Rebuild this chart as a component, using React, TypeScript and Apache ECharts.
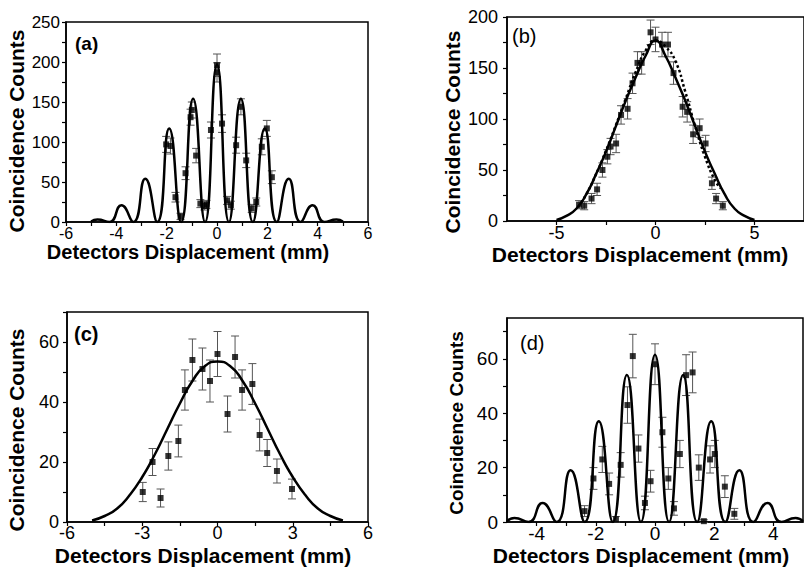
import React, { useEffect, useRef } from "react";
import * as echarts from "echarts";

// ---------- Panel (a) ----------
const aCurveX = [-5, -4.75, -4.275, -3.8, -3.325, -2.85, -2.375, -1.9, -1.425, -0.95, -0.475, 0, 0.475, 0.95, 1.425, 1.9, 2.375, 2.85, 3.325, 3.8, 4.275, 4.75, 5];
const aCurveY = [0.5, 3, 0, 21, 0, 54, 0, 117, 0, 154, 0, 197, 0, 154, 0, 117, 0, 54, 0, 21, 0, 3, 0.5];
const aPoints = [
  [-2.02, 97, 10], [-1.85, 95, 10], [-1.65, 31, 6], [-1.45, 7, 4], [-1.25, 61, 8],
  [-1.05, 131, 10], [-1.0, 140, 10], [-0.83, 83, 9], [-0.66, 23, 5], [-0.5, 20, 5],
  [-0.42, 22, 5], [-0.24, 115, 10], [0, 196, 14], [0, 187, 12], [0.2, 123, 11],
  [0.4, 27, 5], [0.55, 21, 5], [0.76, 96, 10], [0.95, 144, 10], [1.16, 77, 9],
  [1.38, 17, 5], [1.56, 25, 5], [1.78, 94, 10], [1.98, 117, 10], [2.18, 56, 8],
];
const aXLabels = [-6, -4, -2, 0, 2, 4, 6];
const aXTicks = [-6, -5, -4, -3, -2, -1, 0, 1, 2, 3, 4, 5, 6];
const aYLabels = [0, 50, 100, 150, 200, 250];
const aYTicks = [0, 25, 50, 75, 100, 125, 150, 175, 200, 225, 250];

// ---------- Panel (b) ----------
const bSolidX = [-5, -4.5, -4, -3.5, -3, -2.5, -2, -1.5, -1, -0.5, 0, 0.5, 1, 1.5, 2, 2.5, 3, 3.5, 4, 4.5, 5];
const bSolidY = [1, 5, 12, 26, 46, 68, 93, 118, 141, 162, 177, 162, 141, 118, 93, 68, 46, 26, 12, 5, 1];
const bDotX = [-3.9, -3.5, -3, -2.5, -2, -1.5, -1, -0.5, 0, 0.5, 1, 1.5, 2, 2.5, 3, 3.3];
const bDotY = [14, 26, 46, 69, 94, 120, 146, 167, 177, 171, 157, 127, 93, 63, 40, 32];
const bPoints = [
  [-3.86, 16, 4], [-3.6, 15, 4], [-3.23, 22, 5], [-2.95, 31, 6], [-2.68, 50, 7],
  [-2.43, 63, 7], [-2.27, 73, 8], [-1.99, 76, 9], [-1.74, 104, 9], [-1.41, 110, 10],
  [-1.16, 135, 10], [-0.91, 155, 11], [-0.7, 155, 11], [-0.25, 185, 12], [0, 178, 12],
  [0.33, 173, 12], [0.63, 173, 12], [0.91, 145, 11], [1.37, 112, 10], [1.6, 107, 10],
  [1.9, 85, 9], [2.23, 91, 9], [2.53, 76, 8], [2.85, 37, 6], [3.06, 22, 5], [3.4, 15, 4],
];
const bXLabels = [-5, 0, 5];
const bXTicks = [-5, -2.5, 0, 2.5, 5];
const bYLabels = [0, 50, 100, 150, 200];
const bYTicks = [0, 25, 50, 75, 100, 125, 150, 175, 200];

// ---------- Panel (c) ----------
const cCurveX = [-5, -4.5, -4, -3.5, -3, -2.5, -2, -1.5, -1, -0.5, 0, 0.5, 1, 1.5, 2, 2.5, 3, 3.5, 4, 4.5, 5];
const cCurveY = [0.5, 2, 4.5, 9, 15, 22.5, 31, 39.5, 47, 52, 53.5, 52, 47, 39.5, 31, 22.5, 15, 9, 4.5, 2, 0.5];
const cPoints = [
  [-2.98, 10, 3.2], [-2.59, 20, 4.5], [-2.27, 8, 3], [-1.96, 22, 4.7], [-1.56, 27, 5.3],
  [-1.3, 44, 6.7], [-1.0, 54, 7], [-0.6, 51, 7], [-0.3, 47, 7], [0, 56, 7.5],
  [0.4, 36, 6], [0.7, 55, 7], [0.98, 44, 6.7], [1.39, 46, 6.8], [1.68, 29, 5.3],
  [1.98, 23, 4.5], [2.37, 17, 4], [2.97, 11, 3.3],
];
const cXLabels = [-6, -3, 0, 3, 6];
const cXTicks = [-6, -4.5, -3, -1.5, 0, 1.5, 3, 4.5, 6];
const cYLabels = [0, 20, 40, 60];
const cYTicks = [0, 10, 20, 30, 40, 50, 60, 70];

// ---------- Panel (d) ----------
const dCurveX = [-5, -4.75, -4.275, -3.8, -3.325, -2.85, -2.375, -1.9, -1.425, -0.95, -0.475, 0, 0.475, 0.95, 1.425, 1.9, 2.375, 2.85, 3.325, 3.8, 4.275, 4.75, 5];
const dCurveY = [0.3, 1.5, 0, 7, 0, 19, 0, 37, 0, 54, 0, 61.5, 0, 54, 0, 37, 0, 19, 0, 7, 0, 1.5, 0.3];
const dPoints = [
  [-2.38, 4, 2], [-2.08, 16, 4], [-1.78, 23, 4.8], [-1.55, 14, 4], [-1.32, 1, 1],
  [-1.16, 21, 4.5], [-0.93, 43, 6.7], [-0.75, 61, 8], [-0.56, 27, 5], [-0.34, 7, 2.5],
  [-0.15, 15, 4], [0, 58, 7.5], [0.25, 33, 5.5], [0.45, 16, 4], [0.64, 5, 2.5],
  [0.84, 25, 5], [1.05, 54, 7.5], [1.27, 55, 7.5], [1.48, 20, 4.7], [1.65, 0.3, 0.5],
  [1.86, 23, 5], [2.02, 25, 5], [2.36, 13, 4], [2.68, 3, 2],
];
const dXLabels = [-4, -2, 0, 2, 4];
const dXTicks = [-4, -3, -2, -1, 0, 1, 2, 3, 4];
const dYLabels = [0, 20, 40, 60];
const dYTicks = [0, 10, 20, 30, 40, 50, 60, 70];

const FONT = "Liberation Sans, Arial, Helvetica, sans-serif";

const zip = (xs: number[], ys: number[]) => xs.map((x, i) => [x, ys[i]]);

function axis(idx: number, min: number, max: number, labels: number[], ticks: number[], fontSize: number, margin: number) {
  return {
    type: "value", gridIndex: idx, min, max,
    splitLine: { show: false },
    axisLine: { show: true, onZero: false, lineStyle: { color: "#000", width: 1.5 } },
    axisTick: { show: true, length: 4, customValues: ticks, lineStyle: { color: "#000", width: 1.2 } },
    axisLabel: { customValues: labels, color: "#000", fontSize, fontFamily: FONT, margin },
  };
}

const errRender = (params: any, api: any) => {
  const x = api.value(0), y = api.value(1), e = api.value(2);
  const t = api.coord([x, y + e]);
  const b = api.coord([x, y - e]);
  const hw = 4;
  const style = { stroke: "#555", lineWidth: 1 };
  return {
    type: "group",
    children: [
      { type: "line", shape: { x1: t[0], y1: t[1], x2: b[0], y2: b[1] }, style },
      { type: "line", shape: { x1: t[0] - hw, y1: t[1], x2: t[0] + hw, y2: t[1] }, style },
      { type: "line", shape: { x1: b[0] - hw, y1: b[1], x2: b[0] + hw, y2: b[1] }, style },
    ],
  };
};

function panelSeries(idx: number, curves: { data: number[][]; dotted?: boolean }[], pts: number[][]) {
  const s: any[] = [];
  curves.forEach((c) => {
    s.push({
      type: "line", xAxisIndex: idx, yAxisIndex: idx, data: c.data, showSymbol: false,
      smooth: 0.55, lineStyle: { color: "#000", width: 2.5, type: c.dotted ? "dotted" : "solid" },
      z: 3,
    });
  });
  s.push({
    type: "custom", xAxisIndex: idx, yAxisIndex: idx, data: pts, renderItem: errRender,
    encode: { x: 0, y: 1 }, z: 2,
  });
  s.push({
    type: "scatter", xAxisIndex: idx, yAxisIndex: idx, data: pts.map((p) => [p[0], p[1]]),
    symbol: "rect", symbolSize: 6, itemStyle: { color: "#000" }, z: 4,
  });
  return s;
}

function txt(text: string, x: number, y: number, fontSize: number, bold: boolean, rot = 0, align = "center", va = "middle") {
  return {
    type: "text", x, y, rotation: rot,
    style: { text, fill: "#000", font: `${bold ? "bold " : ""}${fontSize}px ${FONT}`, align, verticalAlign: va },
  };
}

export default function App() {
  const ref = useRef<HTMLDivElement>(null);
  useEffect(() => {
    if (!ref.current) return;
    const chart = echarts.init(ref.current, undefined, { renderer: "svg" });
    const gridBase = { show: true, borderColor: "#000", borderWidth: 1.5, backgroundColor: "transparent" };
    chart.setOption({
      animation: false,
      backgroundColor: "#fff",
      grid: [
        { ...gridBase, left: 66, top: 22, width: 302, height: 200 },
        { ...gridBase, left: 507, top: 17, width: 298, height: 204 },
        { ...gridBase, left: 67, top: 312, width: 301, height: 210 },
        { ...gridBase, left: 507, top: 318, width: 296, height: 204 },
      ],
      xAxis: [
        axis(0, -6, 6, aXLabels, aXTicks, 16, 3),
        axis(1, -7.5, 7.5, bXLabels, bXTicks, 18, 3),
        axis(2, -6, 6, cXLabels, cXTicks, 18, 2),
        axis(3, -5, 5, dXLabels, dXTicks, 19, 2),
      ],
      yAxis: [
        axis(0, 0, 250, aYLabels, aYTicks, 17, 6),
        axis(1, 0, 200, bYLabels, bYTicks, 18, 9),
        axis(2, 0, 70, cYLabels, cYTicks, 18, 8),
        axis(3, 0, 75, dYLabels, dYTicks, 19, 9),
      ],
      series: [
        ...panelSeries(0, [{ data: zip(aCurveX, aCurveY) }], aPoints),
        ...panelSeries(1, [{ data: zip(bSolidX, bSolidY) }, { data: zip(bDotX, bDotY), dotted: true }], bPoints),
        ...panelSeries(2, [{ data: zip(cCurveX, cCurveY) }], cPoints),
        ...panelSeries(3, [{ data: zip(dCurveX, dCurveY) }], dPoints),
      ],
      graphic: [
        txt("Detectors Displacement (mm)", 188, 252, 20, true),
        txt("Detectors Displacement (mm)", 640, 254, 21, true),
        txt("Detectors Displacement (mm)", 203, 555, 21, true),
        txt("Detectors Displacement (mm)", 641, 555, 21, true),
        txt("Coincidence Counts", 16, 131, 21, true, Math.PI / 2),
        txt("Coincidence Counts", 452, 132, 21, true, Math.PI / 2),
        txt("Coincidence Counts", 16, 430, 21, true, Math.PI / 2),
        txt("Coincidence Counts", 456, 423, 19, true, Math.PI / 2),
        txt("(a)", 75, 34, 19, true, 0, "left", "top"),
        txt("(b)", 512, 26, 20, false, 0, "left", "top"),
        txt("(c)", 74, 324, 20, true, 0, "left", "top"),
        txt("(d)", 520, 333, 20, false, 0, "left", "top"),
      ],
    });
    return () => chart.dispose();
  }, []);
  return (
    <div
      ref={ref}
      style={{ position: "fixed", left: 0, top: 0, width: 804, height: 567, background: "#fff" }}
    />
  );
}
